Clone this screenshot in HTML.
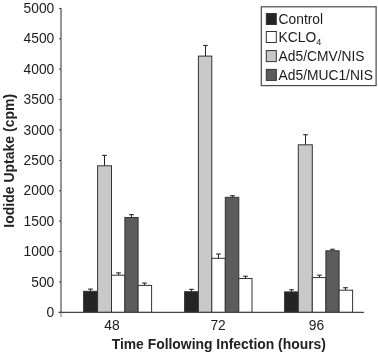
<!DOCTYPE html>
<html><head><meta charset="utf-8"><style>
html,body{margin:0;padding:0;background:#fff;}
body{width:378px;height:352px;overflow:hidden;}
svg{display:block;will-change:transform;font-family:"Liberation Sans",sans-serif;}
</style></head><body>
<svg width="378" height="352" viewBox="0 0 378 352">
<rect width="378" height="352" fill="#fff"/>
<line x1="90.50" y1="291.30" x2="90.50" y2="289.10" stroke="#222" stroke-width="1"/>
<line x1="88.20" y1="289.10" x2="92.80" y2="289.10" stroke="#333333" stroke-width="1.2"/>
<rect x="83.60" y="291.30" width="14.00" height="21.10" fill="#242424" stroke="#333333" stroke-width="1"/>
<line x1="104.50" y1="165.80" x2="104.50" y2="155.40" stroke="#222" stroke-width="1"/>
<line x1="102.20" y1="155.40" x2="106.80" y2="155.40" stroke="#333333" stroke-width="1.2"/>
<rect x="97.60" y="165.80" width="13.90" height="146.60" fill="#c9c9c9" stroke="#333333" stroke-width="1"/>
<line x1="118.50" y1="275.20" x2="118.50" y2="272.90" stroke="#222" stroke-width="1"/>
<line x1="116.20" y1="272.90" x2="120.80" y2="272.90" stroke="#333333" stroke-width="1.2"/>
<rect x="111.50" y="275.20" width="13.40" height="37.20" fill="#ffffff" stroke="#333333" stroke-width="1"/>
<line x1="131.50" y1="217.50" x2="131.50" y2="214.60" stroke="#222" stroke-width="1"/>
<line x1="129.20" y1="214.60" x2="133.80" y2="214.60" stroke="#333333" stroke-width="1.2"/>
<rect x="124.90" y="217.50" width="13.20" height="94.90" fill="#5c5c5c" stroke="#333333" stroke-width="1"/>
<line x1="144.50" y1="285.40" x2="144.50" y2="283.10" stroke="#222" stroke-width="1"/>
<line x1="142.20" y1="283.10" x2="146.80" y2="283.10" stroke="#333333" stroke-width="1.2"/>
<rect x="138.10" y="285.40" width="13.50" height="27.00" fill="#ffffff" stroke="#333333" stroke-width="1"/>
<line x1="191.50" y1="291.70" x2="191.50" y2="289.40" stroke="#222" stroke-width="1"/>
<line x1="189.20" y1="289.40" x2="193.80" y2="289.40" stroke="#333333" stroke-width="1.2"/>
<rect x="184.60" y="291.70" width="13.80" height="20.70" fill="#242424" stroke="#333333" stroke-width="1"/>
<line x1="205.50" y1="56.10" x2="205.50" y2="45.50" stroke="#222" stroke-width="1"/>
<line x1="203.20" y1="45.50" x2="207.80" y2="45.50" stroke="#333333" stroke-width="1.2"/>
<rect x="198.40" y="56.10" width="13.40" height="256.30" fill="#c9c9c9" stroke="#333333" stroke-width="1"/>
<line x1="218.50" y1="258.30" x2="218.50" y2="254.00" stroke="#222" stroke-width="1"/>
<line x1="216.20" y1="254.00" x2="220.80" y2="254.00" stroke="#333333" stroke-width="1.2"/>
<rect x="211.80" y="258.30" width="13.50" height="54.10" fill="#ffffff" stroke="#333333" stroke-width="1"/>
<line x1="232.50" y1="197.30" x2="232.50" y2="195.70" stroke="#222" stroke-width="1"/>
<line x1="230.20" y1="195.70" x2="234.80" y2="195.70" stroke="#333333" stroke-width="1.2"/>
<rect x="225.30" y="197.30" width="13.50" height="115.10" fill="#5c5c5c" stroke="#333333" stroke-width="1"/>
<line x1="245.50" y1="278.50" x2="245.50" y2="276.30" stroke="#222" stroke-width="1"/>
<line x1="243.20" y1="276.30" x2="247.80" y2="276.30" stroke="#333333" stroke-width="1.2"/>
<rect x="238.80" y="278.50" width="13.20" height="33.90" fill="#ffffff" stroke="#333333" stroke-width="1"/>
<line x1="291.50" y1="291.90" x2="291.50" y2="289.70" stroke="#222" stroke-width="1"/>
<line x1="289.20" y1="289.70" x2="293.80" y2="289.70" stroke="#333333" stroke-width="1.2"/>
<rect x="284.60" y="291.90" width="13.70" height="20.50" fill="#242424" stroke="#333333" stroke-width="1"/>
<line x1="305.50" y1="144.80" x2="305.50" y2="134.70" stroke="#222" stroke-width="1"/>
<line x1="303.20" y1="134.70" x2="307.80" y2="134.70" stroke="#333333" stroke-width="1.2"/>
<rect x="298.30" y="144.80" width="14.00" height="167.60" fill="#c9c9c9" stroke="#333333" stroke-width="1"/>
<line x1="319.50" y1="277.60" x2="319.50" y2="275.20" stroke="#222" stroke-width="1"/>
<line x1="317.20" y1="275.20" x2="321.80" y2="275.20" stroke="#333333" stroke-width="1.2"/>
<rect x="312.30" y="277.60" width="13.60" height="34.80" fill="#ffffff" stroke="#333333" stroke-width="1"/>
<line x1="332.50" y1="250.80" x2="332.50" y2="249.30" stroke="#222" stroke-width="1"/>
<line x1="330.20" y1="249.30" x2="334.80" y2="249.30" stroke="#333333" stroke-width="1.2"/>
<rect x="325.90" y="250.80" width="13.20" height="61.60" fill="#5c5c5c" stroke="#333333" stroke-width="1"/>
<line x1="345.50" y1="290.20" x2="345.50" y2="287.70" stroke="#222" stroke-width="1"/>
<line x1="343.20" y1="287.70" x2="347.80" y2="287.70" stroke="#333333" stroke-width="1.2"/>
<rect x="339.10" y="290.20" width="13.50" height="22.20" fill="#ffffff" stroke="#333333" stroke-width="1"/>
<line x1="61" y1="8" x2="61" y2="313" stroke="#8a8a8a" stroke-width="1.8"/>
<line x1="58.5" y1="312.4" x2="364" y2="312.4" stroke="#444" stroke-width="1.3"/>
<line x1="61" y1="312" x2="61" y2="317" stroke="#777" stroke-width="1"/>
<line x1="59" y1="8.40" x2="61" y2="8.40" stroke="#444" stroke-width="1"/>
<text x="54.3" y="13.00" text-anchor="end" font-size="13.8" fill="#1c1c1c">5000</text>
<line x1="59" y1="38.80" x2="61" y2="38.80" stroke="#444" stroke-width="1"/>
<text x="54.3" y="43.40" text-anchor="end" font-size="13.8" fill="#1c1c1c">4500</text>
<line x1="59" y1="69.20" x2="61" y2="69.20" stroke="#444" stroke-width="1"/>
<text x="54.3" y="73.80" text-anchor="end" font-size="13.8" fill="#1c1c1c">4000</text>
<line x1="59" y1="99.60" x2="61" y2="99.60" stroke="#444" stroke-width="1"/>
<text x="54.3" y="104.20" text-anchor="end" font-size="13.8" fill="#1c1c1c">3500</text>
<line x1="59" y1="130.00" x2="61" y2="130.00" stroke="#444" stroke-width="1"/>
<text x="54.3" y="134.60" text-anchor="end" font-size="13.8" fill="#1c1c1c">3000</text>
<line x1="59" y1="160.40" x2="61" y2="160.40" stroke="#444" stroke-width="1"/>
<text x="54.3" y="165.00" text-anchor="end" font-size="13.8" fill="#1c1c1c">2500</text>
<line x1="59" y1="190.80" x2="61" y2="190.80" stroke="#444" stroke-width="1"/>
<text x="54.3" y="195.40" text-anchor="end" font-size="13.8" fill="#1c1c1c">2000</text>
<line x1="59" y1="221.20" x2="61" y2="221.20" stroke="#444" stroke-width="1"/>
<text x="54.3" y="225.80" text-anchor="end" font-size="13.8" fill="#1c1c1c">1500</text>
<line x1="59" y1="251.60" x2="61" y2="251.60" stroke="#444" stroke-width="1"/>
<text x="54.3" y="256.20" text-anchor="end" font-size="13.8" fill="#1c1c1c">1000</text>
<line x1="59" y1="282.00" x2="61" y2="282.00" stroke="#444" stroke-width="1"/>
<text x="54.3" y="286.60" text-anchor="end" font-size="13.8" fill="#1c1c1c">500</text>
<line x1="59" y1="312.40" x2="61" y2="312.40" stroke="#444" stroke-width="1"/>
<text x="54.3" y="317.00" text-anchor="end" font-size="13.8" fill="#1c1c1c">0</text>
<text x="112" y="329.6" text-anchor="middle" font-size="13.8" fill="#1c1c1c">48</text>
<text x="218.1" y="329.6" text-anchor="middle" font-size="13.8" fill="#1c1c1c">72</text>
<text x="316.5" y="329.6" text-anchor="middle" font-size="13.8" fill="#1c1c1c">96</text>
<text x="218.8" y="348.7" text-anchor="middle" font-size="13.9" font-weight="bold" fill="#222">Time Following Infection (hours)</text>
<text transform="translate(13.8,160.8) rotate(-90)" text-anchor="middle" font-size="14" font-weight="bold" fill="#222">Iodide Uptake (cpm)</text>
<rect x="261.3" y="6.8" width="114.8" height="78.8" fill="#fff" stroke="#4a4a4a" stroke-width="1.2"/>
<rect x="266.3" y="13.5" width="10" height="11" fill="#242424" stroke="#333333" stroke-width="1"/>
<text x="278.6" y="23.8" font-size="13.8" fill="#1c1c1c">Control</text>
<rect x="266.3" y="31.5" width="10" height="11" fill="#ffffff" stroke="#333333" stroke-width="1"/>
<text x="278.6" y="41.8" font-size="13.8" fill="#1c1c1c">KCLO<tspan font-size="9" dy="3.2">4</tspan></text>
<rect x="266.3" y="50.6" width="10" height="11" fill="#c9c9c9" stroke="#333333" stroke-width="1"/>
<text x="278.6" y="60.900000000000006" font-size="13.8" fill="#1c1c1c">Ad5/CMV/NIS</text>
<rect x="266.3" y="69.4" width="10" height="11" fill="#5c5c5c" stroke="#333333" stroke-width="1"/>
<text x="278.6" y="79.7" font-size="13.8" fill="#1c1c1c">Ad5/MUC1/NIS</text>
</svg>
</body></html>
